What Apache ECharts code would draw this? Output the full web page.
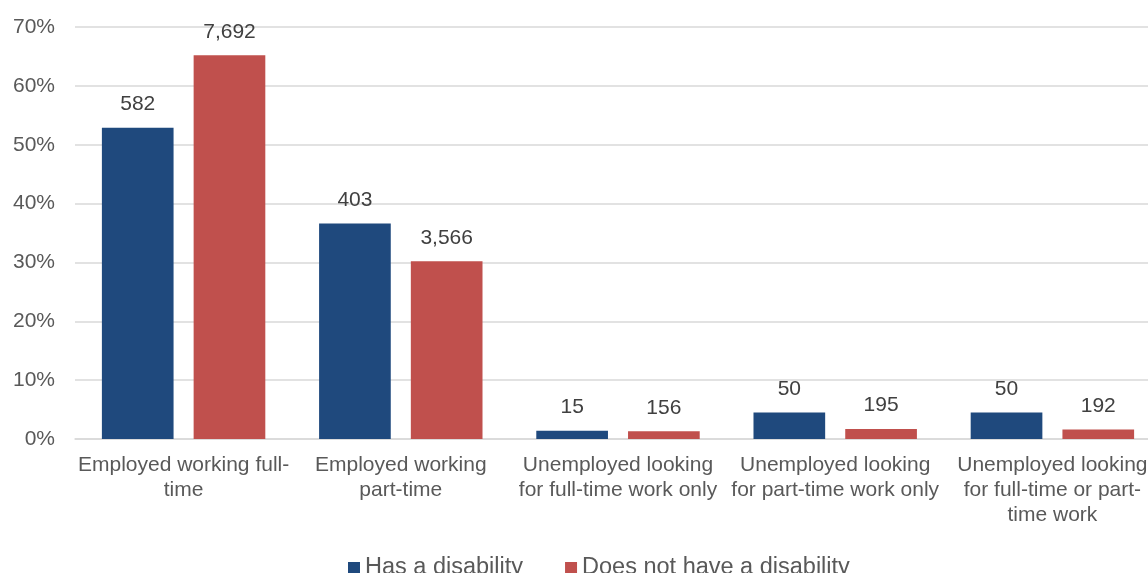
<!DOCTYPE html>
<html>
<head>
<meta charset="utf-8">
<script src="https://cdn.jsdelivr.net/npm/echarts@6/dist/echarts.min.js"></script>
<style>
  html, body { margin: 0; padding: 0; background: #ffffff; }
  #chart { width: 1148px; height: 573px; }
</style>
</head>
<body>
<div id="chart"></div>
<script>
// Employment status categories (line breaks as shown under the axis)
const categories = [
  'Employed working full-\ntime',
  'Employed working\npart-time',
  'Unemployed looking\nfor full-time work only',
  'Unemployed looking\nfor part-time work only',
  'Unemployed looking\nfor full-time or part-\ntime work'
];

// Share of each group (percent) – bar heights
const disabilityPct = [52.9, 36.6, 1.4, 4.5, 4.5];
const noDisabilityPct = [65.2, 30.2, 1.3, 1.7, 1.6];

// Respondent counts shown above each bar
const disabilityCount = [582, 403, 15, 50, 50];
const noDisabilityCount = [7692, 3566, 156, 195, 192];

const seriesNames = ['Has a disability', 'Does not have a disability'];
const yTicks = { min: 0, max: 70, interval: 10 };

const FONT = 'Liberation Sans, Arial, sans-serif';
const fmtCount = n => n.toLocaleString('en-US');

function barSeries(name, values, counts, color) {
  return {
    name: name,
    type: 'bar',
    data: values,
    barWidth: '33%',
    barGap: '28%',
    itemStyle: { color: color },
    label: {
      show: true,
      position: 'top',
      distance: 13,
      fontFamily: FONT,
      fontSize: 21,
      color: '#404040',
      formatter: p => fmtCount(counts[p.dataIndex])
    }
  };
}

const chart = echarts.init(document.getElementById('chart'), null, { renderer: 'canvas' });
chart.setOption({
  animation: false,
  backgroundColor: '#ffffff',
  textStyle: { fontFamily: FONT },
  // plot area runs a little past the right edge of the canvas
  grid: { left: 75, width: 1086, top: 27, bottom: 134, containLabel: false, outerBoundsMode: 'none' },
  legend: {
    data: seriesNames,
    left: 343,
    top: 551,
    itemWidth: 12,
    itemHeight: 12,
    itemGap: 42,
    icon: 'rect',
    textStyle: { fontFamily: FONT, fontSize: 23.5, color: '#595959' }
  },
  xAxis: {
    type: 'category',
    data: categories,
    axisLine: { show: true, lineStyle: { color: '#d9d9d9', width: 1.5 } },
    axisTick: { show: false },
    axisLabel: {
      interval: 0,
      margin: 14,
      fontFamily: FONT,
      fontSize: 21,
      lineHeight: 25,
      color: '#595959'
    }
  },
  yAxis: {
    type: 'value',
    min: yTicks.min,
    max: yTicks.max,
    interval: yTicks.interval,
    axisLine: { show: false },
    axisTick: { show: false },
    splitLine: { lineStyle: { color: '#d9d9d9', width: 1.5 } },
    axisLabel: {
      margin: 20,
      fontFamily: FONT,
      fontSize: 21,
      color: '#595959',
      formatter: '{value}%'
    }
  },
  series: [
    barSeries(seriesNames[0], disabilityPct, disabilityCount, '#1F497D'),
    barSeries(seriesNames[1], noDisabilityPct, noDisabilityCount, '#C0504D')
  ]
});
</script>
</body>
</html>
